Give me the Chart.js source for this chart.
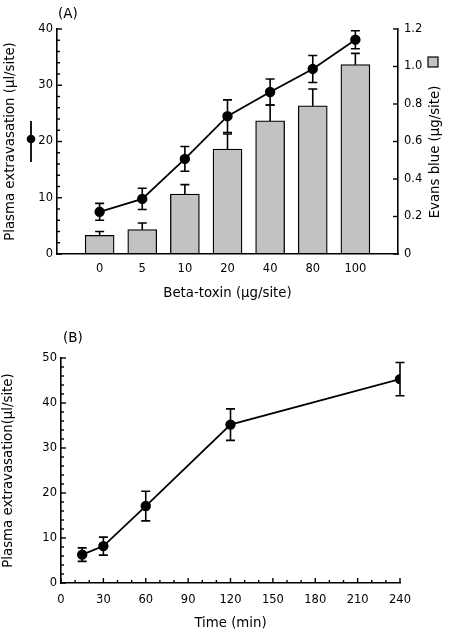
<!DOCTYPE html>
<html>
<head>
<meta charset="utf-8">
<script src="https://cdn.jsdelivr.net/npm/chart.js@4.4.1/dist/chart.umd.min.js"></script>
<style>
  html, body { margin: 0; padding: 0; background: #fff; }
  #wrapA { position: absolute; left: 0; top: 0; width: 451px; height: 310px; }
  #wrapB { position: absolute; left: 0; top: 310px; width: 451px; height: 330px; }
</style>
</head>
<body>
<div id="wrapA"><canvas id="chartA"></canvas></div>
<div id="wrapB"><canvas id="chartB"></canvas></div>
<script>
// ---------- Data (panel A) ----------
const doses = ['0', '5', '10', '20', '40', '80', '100'];
const plasmaA = [7.5, 9.8, 16.9, 24.5, 28.8, 32.9, 38.1];
const plasmaAErr = [1.5, 1.9, 2.2, 2.9, 2.3, 2.4, 1.6];
const evansBlue = [0.10, 0.13, 0.32, 0.56, 0.71, 0.79, 1.01];
const evansBlueErr = [0.02, 0.035, 0.05, 0.08, 0.085, 0.09, 0.06];
const leftTicksA = [0, 10, 20, 30, 40];
const rightTickLabelsA = ['0', '0.2', '0.4', '0.6', '0.8', '1.0', '1.2'];

// ---------- Data (panel B) ----------
const timesB = [15, 30, 60, 120, 240];
const plasmaB = [6.3, 8.2, 17.1, 35.2, 45.3];
const plasmaBErr = [1.5, 2.0, 3.3, 3.5, 3.7];
const timeTicksB = [0, 30, 60, 90, 120, 150, 180, 210, 240];

const FONT = '"DejaVu Sans", Verdana, sans-serif';
const TICK_SIZE = 11.5;
const TITLE_SIZE = 13.3;
Chart.defaults.font.family = FONT;
Chart.defaults.color = '#000';
Chart.defaults.animation = false;

function range(a, b, step) { const r = []; for (let v = a; v <= b + 1e-9; v += step) r.push(+v.toFixed(6)); return r; }

// decoration config per canvas (kept out of Chart.js option resolver)
const DECOR = {
  chartA: {
    ticks: [
      { axis: 'y', values: leftTicksA, len: 5 },
      { axis: 'y', values: range(0, 40, 2).filter(v => v % 10 !== 0), len: 3 },
      { axis: 'y2', values: range(0, 1.2, 0.2), len: 5 }
    ],
    texts: [
      { text: '(A)', x: 58, y: 14, size: 13.5 },
      { text: 'Evans blue (\u00b5g/site)', x: 436, y: 152, rot: -Math.PI / 2, align: 'center', size: TITLE_SIZE }
    ],
    legend(ctx) {
      ctx.strokeStyle = '#000';
      ctx.fillStyle = '#000';
      ctx.lineWidth = 1.8;
      ctx.beginPath(); ctx.moveTo(31, 121); ctx.lineTo(31, 162); ctx.stroke();
      ctx.beginPath(); ctx.arc(31, 139, 4.3, 0, Math.PI * 2); ctx.fill();
      ctx.fillStyle = '#c2c2c2';
      ctx.fillRect(428, 57, 10, 10);
      ctx.lineWidth = 1.2;
      ctx.strokeRect(428, 57, 10, 10);
    }
  },
  chartB: {
    ticks: [
      { axis: 'y', values: range(0, 50, 10), len: 5 },
      { axis: 'y', values: range(0, 50, 2).filter(v => v % 10 !== 0), len: 3 },
      { axis: 'x', values: timeTicksB, len: 5 },
      { axis: 'x', values: range(0, 240, 10).filter(v => v % 30 !== 0), len: 3 }
    ],
    texts: [
      { text: '(B)', x: 63, y: 28, size: 13.5 }
    ]
  }
};

const decor = {
  id: 'decor',
  afterDatasetsDraw(chart) {
    const ctx = chart.ctx;
    ctx.save();
    ctx.strokeStyle = '#000';
    ctx.lineWidth = 1.6;
    chart.data.datasets.forEach((ds, di) => {
      if (!ds.errors) return;
      const meta = chart.getDatasetMeta(di);
      const ys = chart.scales[meta.yAxisID];
      meta.data.forEach((el, i) => {
        const raw = ds.data[i];
        const e = ds.errors[i];
        if (raw == null || e == null) return;
        const v = typeof raw === 'object' ? raw.y : raw;
        const x = el.x;
        const yTop = ys.getPixelForValue(v + e);
        const yBot = ds.upperOnly ? ys.getPixelForValue(v) : ys.getPixelForValue(v - e);
        const cw = ds.capWidth || 4.5;
        ctx.beginPath();
        ctx.moveTo(x, yTop); ctx.lineTo(x, yBot);
        ctx.moveTo(x - cw, yTop); ctx.lineTo(x + cw, yTop);
        if (!ds.upperOnly) { ctx.moveTo(x - cw, yBot); ctx.lineTo(x + cw, yBot); }
        ctx.stroke();
      });
    });
    ctx.restore();
  },
  afterDraw(chart) {
    const cfg = DECOR[chart.canvas.id];
    if (!cfg) return;
    const ctx = chart.ctx;
    const area = chart.chartArea;
    ctx.save();
    ctx.strokeStyle = '#000';
    ctx.lineWidth = 1.4;
    cfg.ticks.forEach(t => {
      const s = chart.scales[t.axis];
      t.values.forEach(v => {
        ctx.beginPath();
        if (s.isHorizontal()) {
          const x = s.getPixelForValue(v);
          ctx.moveTo(x, area.bottom); ctx.lineTo(x, area.bottom - t.len);
        } else {
          const y = s.getPixelForValue(v);
          const left = s.position === 'left';
          const x = left ? area.left : area.right;
          ctx.moveTo(x, y); ctx.lineTo(x + (left ? 1 : -1) * t.len, y);
        }
        ctx.stroke();
      });
    });
    ctx.fillStyle = '#000';
    cfg.texts.forEach(t => {
      ctx.save();
      ctx.font = t.size + 'px ' + FONT;
      ctx.textAlign = t.align || 'left';
      ctx.textBaseline = 'middle';
      ctx.translate(t.x, t.y);
      if (t.rot) ctx.rotate(t.rot);
      ctx.fillText(t.text, 0, 0);
      ctx.restore();
    });
    if (cfg.legend) cfg.legend(ctx);
    ctx.restore();
  }
};

// ---------- Panel A ----------
const labelsA = [''].concat(doses, ['']);
new Chart(document.getElementById('chartA'), {
  type: 'bar',
  data: {
    labels: labelsA,
    datasets: [
      {
        type: 'line',
        label: 'Plasma extravasation',
        data: [null].concat(plasmaA, [null]),
        errors: [null].concat(plasmaAErr, [null]),
        capWidth: 4.5,
        yAxisID: 'y',
        borderColor: '#000',
        borderWidth: 1.8,
        pointBackgroundColor: '#000',
        pointBorderColor: '#000',
        pointRadius: 4.3,
        spanGaps: false,
        order: 0
      },
      {
        type: 'bar',
        label: 'Evans blue',
        data: [null].concat(evansBlue, [null]),
        errors: [null].concat(evansBlueErr, [null]),
        upperOnly: true,
        capWidth: 4.5,
        yAxisID: 'y2',
        backgroundColor: '#c2c2c2',
        borderColor: '#000',
        borderWidth: 1.3,
        borderSkipped: false,
        barThickness: 29,
        order: 1
      }
    ]
  },
  options: {
    responsive: true,
    maintainAspectRatio: false,
    layout: { padding: { top: 29, left: 0, right: 0, bottom: 0 } },
    plugins: { legend: { display: false }, tooltip: { enabled: false } },
    scales: {
      x: {
        type: 'category',
        offset: false,
        grid: { display: false, drawTicks: false },
        border: { display: true, color: '#000', width: 1.6 },
        ticks: { padding: 8, font: { size: TICK_SIZE }, color: '#000', maxRotation: 0, autoSkip: false },
        title: { display: true, text: 'Beta-toxin (\u00b5g/site)', font: { size: TITLE_SIZE }, color: '#000', padding: { top: 0, bottom: 8 } },
        afterFit(s) { s.height = 56; }
      },
      y: {
        position: 'left',
        min: 0, max: 40,
        grid: { display: false, drawTicks: false },
        border: { display: true, color: '#000', width: 1.6 },
        ticks: { stepSize: 10, padding: 4, font: { size: TICK_SIZE }, color: '#000',
                 callback: v => leftTicksA.includes(v) ? String(v) : '' },
        title: { display: true, text: 'Plasma extravasation (\u00b5l/site)', font: { size: TITLE_SIZE }, color: '#000', padding: { top: 3, bottom: 0 } },
        afterFit(s) { s.width = 57; }
      },
      y2: {
        position: 'right',
        min: 0, max: 1.2,
        grid: { display: false, drawTicks: false },
        border: { display: true, color: '#000', width: 1.6 },
        ticks: { stepSize: 0.2, padding: 6, font: { size: TICK_SIZE }, color: '#000',
                 callback: (v, i) => rightTickLabelsA[i] },
        afterFit(s) { s.width = 53; }
      }
    }
  },
  plugins: [decor]
});

// ---------- Panel B ----------
new Chart(document.getElementById('chartB'), {
  type: 'line',
  data: {
    datasets: [{
      label: 'Plasma extravasation',
      data: timesB.map((t, i) => ({ x: t, y: plasmaB[i] })),
      errors: plasmaBErr,
      capWidth: 4.5,
      yAxisID: 'y',
      borderColor: '#000',
      borderWidth: 1.8,
      pointBackgroundColor: '#000',
      pointBorderColor: '#000',
      pointRadius: 4.3
    }]
  },
  options: {
    responsive: true,
    maintainAspectRatio: false,
    layout: { padding: { top: 48, left: 0, right: 51, bottom: 0 } },
    plugins: { legend: { display: false }, tooltip: { enabled: false } },
    scales: {
      x: {
        type: 'linear',
        min: 0, max: 240,
        grid: { display: false, drawTicks: false },
        border: { display: true, color: '#000', width: 1.6 },
        ticks: { stepSize: 30, padding: 10, font: { size: TICK_SIZE }, color: '#000', maxRotation: 0, autoSkip: false,
                 callback: v => timeTicksB.includes(v) ? String(v) : '' },
        title: { display: true, text: 'Time (min)', font: { size: TITLE_SIZE }, color: '#000', padding: { top: 0, bottom: 8 } },
        afterFit(s) { s.height = 57; }
      },
      y: {
        position: 'left',
        min: 0, max: 50,
        grid: { display: false, drawTicks: false },
        border: { display: true, color: '#000', width: 1.6 },
        ticks: { stepSize: 10, padding: 4, font: { size: TICK_SIZE }, color: '#000' },
        title: { display: true, text: 'Plasma extravasation(\u00b5l/site)', font: { size: TITLE_SIZE }, color: '#000', padding: { top: 1, bottom: 0 } },
        afterFit(s) { s.width = 61; }
      }
    }
  },
  plugins: [decor]
});
</script>
</body>
</html>
